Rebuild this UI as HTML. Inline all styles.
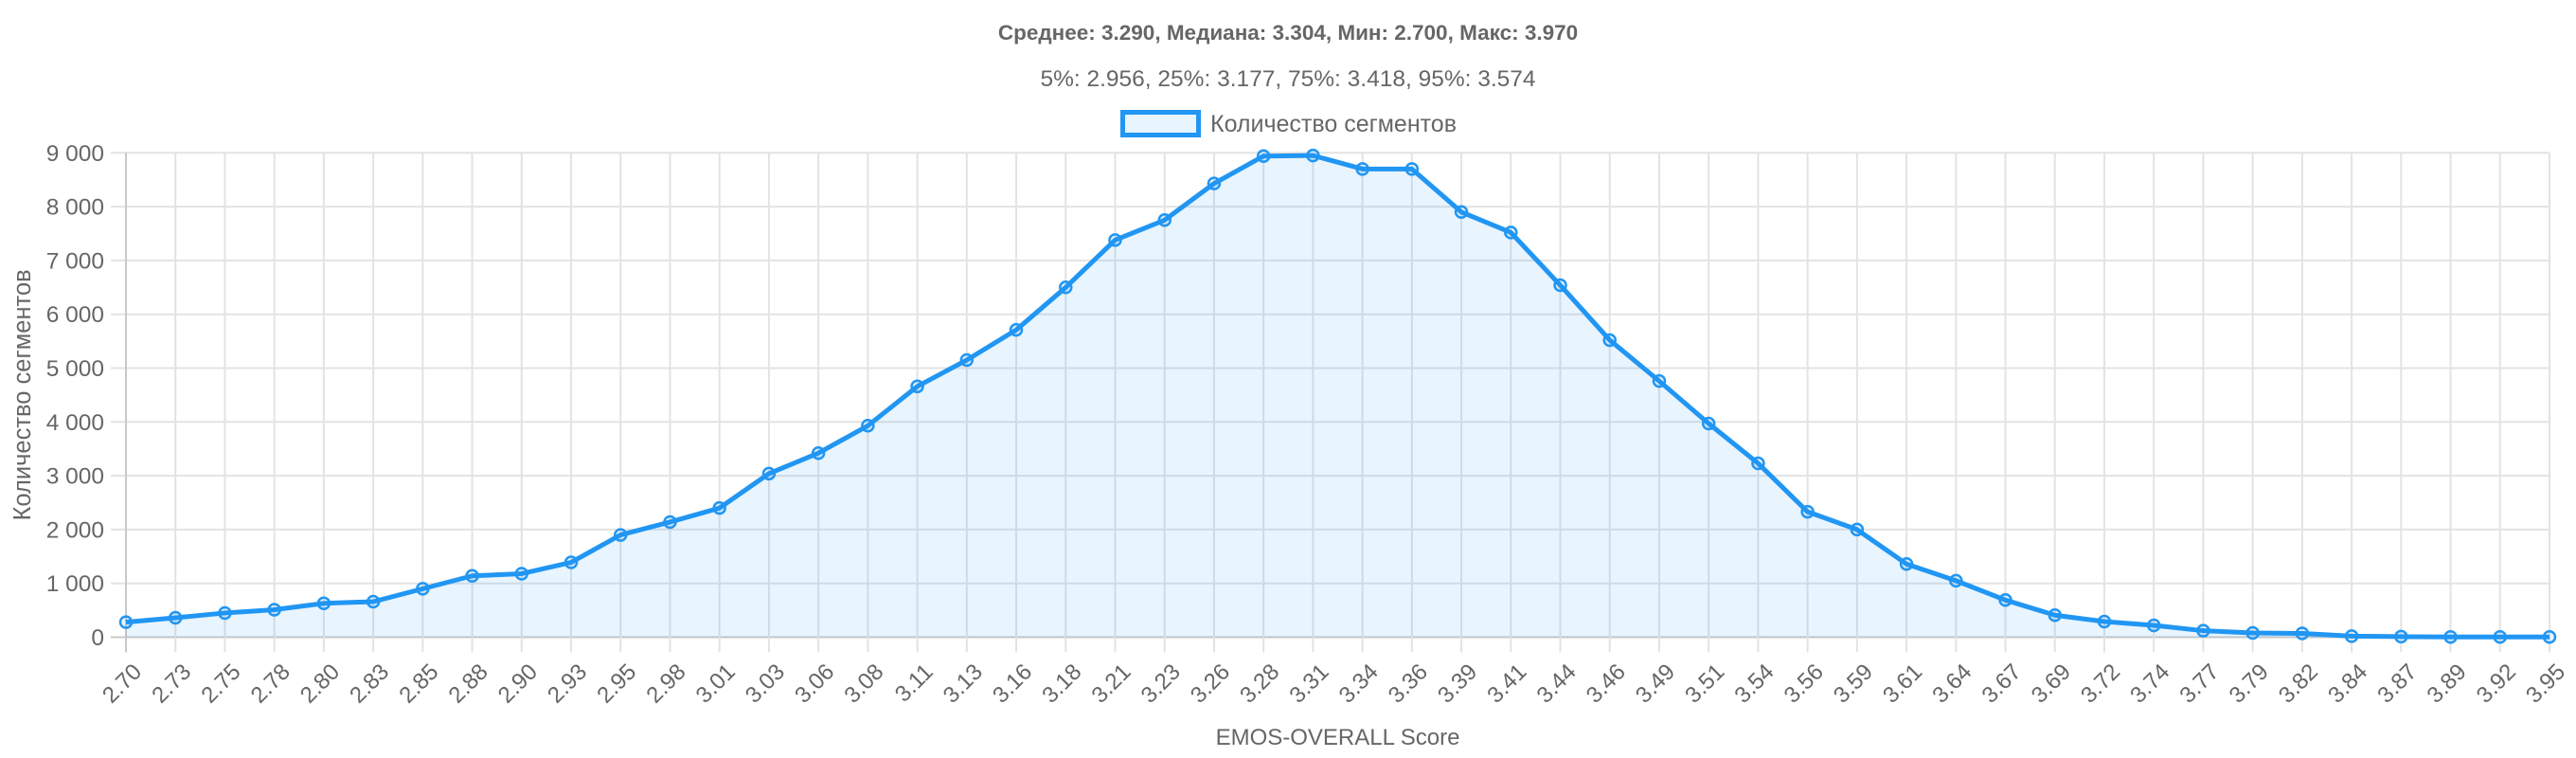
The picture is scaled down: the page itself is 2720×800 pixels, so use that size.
<!DOCTYPE html>
<html><head><meta charset="utf-8"><style>
html,body{margin:0;padding:0;background:#fff;}
svg{display:block;font-family:"Liberation Sans",Arial,sans-serif;}
</style></head><body>
<svg id="c" width="2720" height="800" xmlns="http://www.w3.org/2000/svg"></svg>
<script>
const svg=document.getElementById('c');
const L=133,R=2692,T=161.3,B=672.5;
const labels=["2.70","2.73","2.75","2.78","2.80","2.83","2.85","2.88","2.90","2.93","2.95","2.98","3.01","3.03","3.06","3.08","3.11","3.13","3.16","3.18","3.21","3.23","3.26","3.28","3.31","3.34","3.36","3.39","3.41","3.44","3.46","3.49","3.51","3.54","3.56","3.59","3.61","3.64","3.67","3.69","3.72","3.74","3.77","3.79","3.82","3.84","3.87","3.89","3.92","3.95"];
const data=[280,360,450,510,630,660,900,1140,1180,1390,1900,2140,2400,3040,3420,3930,4660,5150,5710,6500,7380,7750,8430,8940,8950,8700,8700,7900,7520,6540,5520,4760,3970,3230,2330,2000,1360,1050,690,410,290,220,120,80,70,20,10,5,5,5];
const n=labels.length, dx=(R-L)/(n-1);
const X=i=>L+i*dx, Y=v=>B-(v/9000)*(B-T);
let s='';
for(let k=0;k<=9;k++){const y=Y(k*1000);
 s+=`<line x1="${L-16}" x2="${R}" y1="${y}" y2="${y}" stroke="${k==0?'#c8c8c8':'#e3e3e3'}" stroke-width="2"/>`;
 s+=`<text x="${L-23}" y="${y+8.5}" text-anchor="end" font-size="24.5" fill="#666">${k==0?'0':k+' 000'}</text>`;}
for(let i=0;i<n;i++){const x=X(i);
 s+=`<line x1="${x}" x2="${x}" y1="${T}" y2="${B+16}" stroke="${i==0?'#c8c8c8':'#e3e3e3'}" stroke-width="2"/>`;
 s+=`<text transform="translate(${x+6},${B+26}) rotate(-45)" text-anchor="end" font-size="24" fill="#666" dominant-baseline="hanging">${labels[i]}</text>`;}
let pts=data.map((v,i)=>`${X(i)},${Y(v)}`).join(' ');
s+=`<polygon points="${X(0)},${B} ${pts} ${X(n-1)},${B}" fill="rgba(33,150,243,0.1)"/>`;
s+=`<polyline points="${pts}" fill="none" stroke="#2196f3" stroke-width="5" stroke-linejoin="round"/>`;
data.forEach((v,i)=>{s+=`<circle cx="${X(i)}" cy="${Y(v)}" r="6" fill="rgba(33,150,243,0.1)" stroke="#2196f3" stroke-width="2.5"/>`;});
s+=`<text x="1360" y="42" text-anchor="middle" font-size="22.5" font-weight="bold" fill="#666">Среднее: 3.290, Медиана: 3.304, Мин: 2.700, Макс: 3.970</text>`;
s+=`<text x="1360" y="91" text-anchor="middle" font-size="24.5" fill="#666">5%: 2.956, 25%: 3.177, 75%: 3.418, 95%: 3.574</text>`;
s+=`<rect x="1185.5" y="118.5" width="80" height="24" fill="rgba(33,150,243,0.1)" stroke="#2196f3" stroke-width="5"/>`;
s+=`<text x="1278" y="139" font-size="25" fill="#666">Количество сегментов</text>`;
s+=`<text transform="translate(32,${(T+B)/2}) rotate(-90)" text-anchor="middle" font-size="25.5" fill="#666">Количество сегментов</text>`;
s+=`<text x="${(L+R)/2}" y="786" text-anchor="middle" font-size="24" fill="#666">EMOS-OVERALL Score</text>`;
svg.innerHTML=s;
</script>
</body></html>
